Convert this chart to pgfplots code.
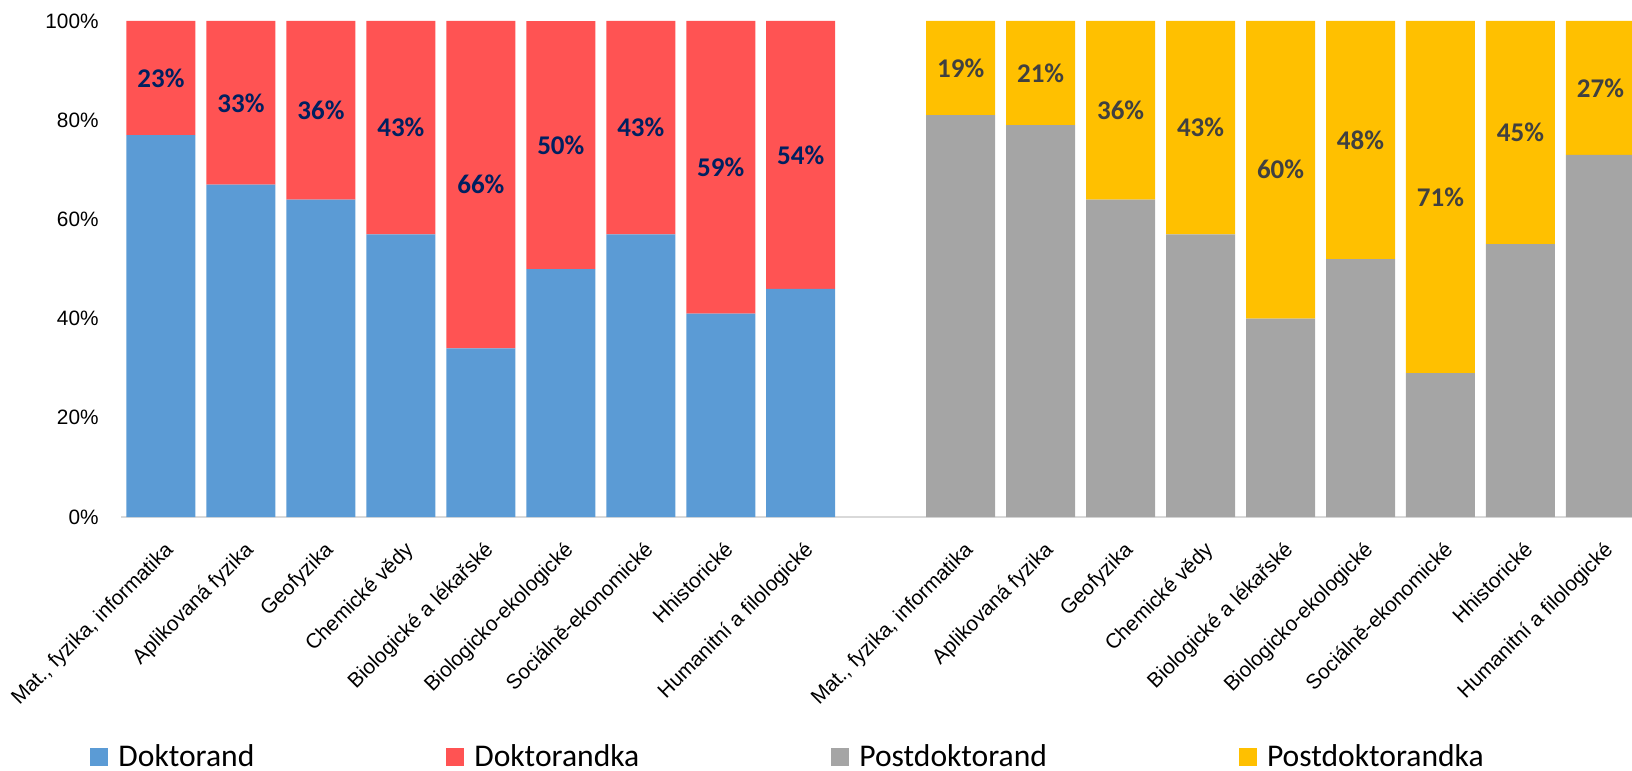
\documentclass[border=0pt]{standalone}
\usepackage{fontspec}
\setmainfont{Liberation Sans}
\newfontfamily\carlito{Carlito}
\usepackage{pgfplots}
\usepackage{pgfplotstable}
\pgfplotsset{compat=1.18}

\definecolor{dokblue}{HTML}{5B9BD5}
\definecolor{dokred}{HTML}{FF5353}
\definecolor{postgray}{HTML}{A5A5A5}
\definecolor{postgold}{HTML}{FFC000}
\definecolor{lblnavy}{HTML}{002060}
\definecolor{lblgray}{HTML}{404040}
\definecolor{baseln}{HTML}{D9D9D9}

% share in percent; left group = doctoral students, right group = postdocs
\pgfplotstableread{
x  dok doka post posta
0  77  23   0    0
1  67  33   0    0
2  64  36   0    0
3  57  43   0    0
4  34  66   0    0
5  50  50   0    0
6  57  43   0    0
7  41  59   0    0
8  46  54   0    0
10  0   0  81   19
11  0   0  79   21
12  0   0  64   36
13  0   0  57   43
14  0   0  40   60
15  0   0  52   48
16  0   0  29   71
17  0   0  55   45
18  0   0  73   27
}\shares

\pgfplotsset{
  common/.style={
    scale only axis,
    width=755.5bp, height=248bp,
    xmin=-0.5, xmax=18.395,
    ymin=0, ymax=100,
    /pgf/number format/assume math mode=true,
  },
}

\begin{document}
\begin{tikzpicture}
\begin{axis}[common,
  ybar stacked, bar width=34.5bp,
  axis x line*=bottom, axis y line*=left,
  x axis line style={draw=baseln, line width=1bp},
  y axis line style={draw=none},
  major tick length=0pt,
  ytick={0,20,...,100},
  yticklabel={\pgfmathprintnumber{\tick}\%},
  yticklabel style={inner xsep=0pt, xshift=-11bp},
  xtick={0,1,2,3,4,5,6,7,8,10,11,12,13,14,15,16,17,18},
  xticklabels={{Mat., fyzika, informatika}, Aplikovaná fyzika, Geofyzika, Chemické vědy,
    Biologické a lékařské, Biologicko-ekologické, Sociálně-ekonomické, Hhistorické,
    Humanitní a filologické,
    {Mat., fyzika, informatika}, Aplikovaná fyzika, Geofyzika, Chemické vědy,
    Biologické a lékařské, Biologicko-ekologické, Sociálně-ekonomické, Hhistorické,
    Humanitní a filologické},
  % shift first, so that it is not turned with the text
  xticklabel style={yshift=-11.5bp, xshift=1.25bp, rotate=45, anchor=north east, inner sep=0pt},
  tick label style={font=\fontsize{10.4bp}{12bp}\selectfont},
  legend columns=4,
  legend image code/.code={\fill[#1] (0bp,-4.5bp) rectangle (9bp,4.5bp);},
  legend style={draw=none, fill=none, at={(axis description cs:-0.0205,-0.484)}, anchor=west,
    inner sep=0pt, font=\carlito\fontsize{15.8bp}{18bp}\selectfont,
    nodes={inner sep=0pt},
    /tikz/every odd column/.append style={column sep=5bp},
    /tikz/every even column/.append style={column sep=96bp}},
]
\addplot[fill=dokblue, draw=none] table[x=x, y=dok] {\shares};
\addlegendentry{Doktorand}
\addplot[fill=dokred, draw=none] table[x=x, y=doka] {\shares};
\addlegendentry{Doktorandka}
\addplot[fill=postgray, draw=none] table[x=x, y=post] {\shares};
\addlegendentry{Postdoktorand}
\addplot[fill=postgold, draw=none] table[x=x, y=posta] {\shares};
\addlegendentry{Postdoktorandka}
\coordinate (LL) at (rel axis cs:0,0);
\coordinate (UR) at (rel axis cs:1,1);
\end{axis}

% labels in the middle of the upper segment
\begin{axis}[common, hide axis,
  point meta=explicit,
  nodes near coords={\pgfmathprintnumber{\pgfplotspointmeta}\%},
  nodes near coords style={anchor=center, font=\carlito\bfseries\fontsize{13.5bp}{16bp}\selectfont},
]
\addplot[draw=none, every node near coord/.append style={text=lblnavy}] coordinates {
  (0,88.5)[23] (1,83.5)[33] (2,82)[36] (3,78.5)[43] (4,67)[66]
  (5,75)[50] (6,78.5)[43] (7,70.5)[59] (8,73)[54]
};
\addplot[draw=none, every node near coord/.append style={text=lblgray}] coordinates {
  (10,90.5)[19] (11,89.5)[21] (12,82)[36] (13,78.5)[43] (14,70)[60]
  (15,76)[48] (16,64.5)[71] (17,77.5)[45] (18,86.5)[27]
};
\end{axis}

\pgfresetboundingbox
\path ([shift={(-60.5bp,-127bp)}]LL) rectangle ([shift={(0bp,10.5bp)}]UR);
\end{tikzpicture}
\end{document}
